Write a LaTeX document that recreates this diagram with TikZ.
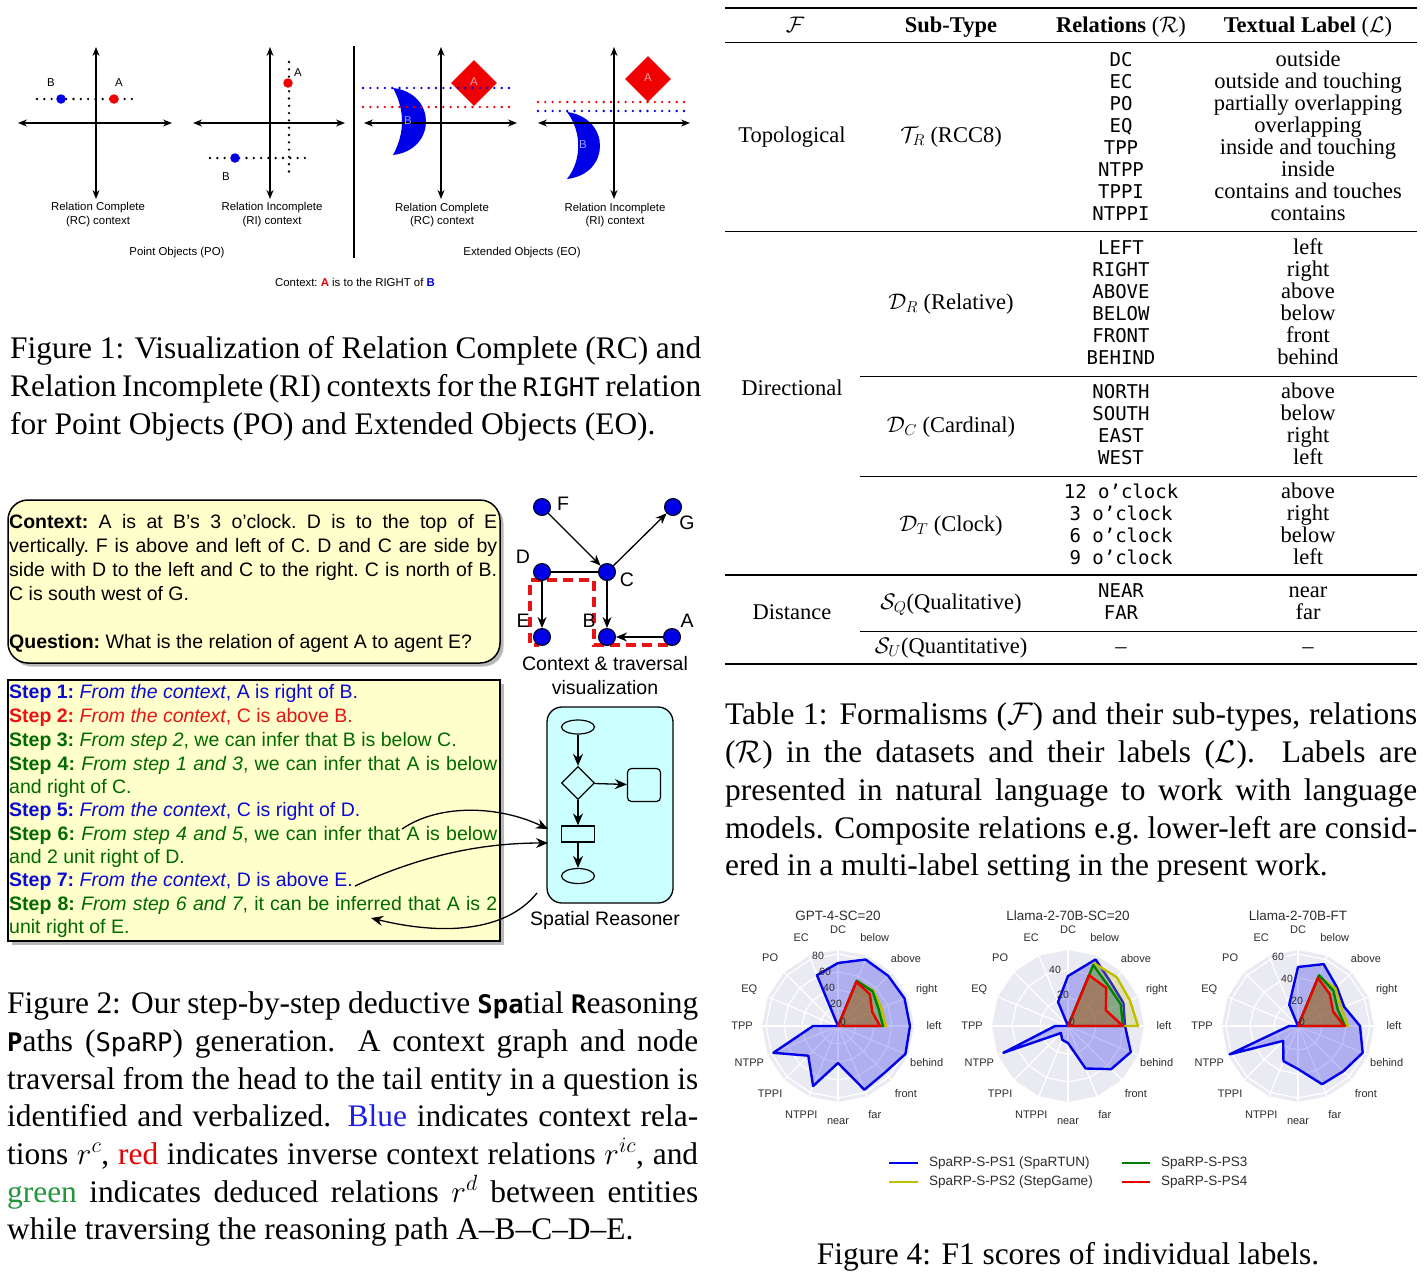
\RequirePackage{fix-cm}
\documentclass[tikz,border=0pt]{standalone}
\usepackage{fontspec}
\setmainfont{Liberation Serif}
\setsansfont{Liberation Sans}
\setmonofont{DejaVu Sans Mono}
\usetikzlibrary{arrows.meta,shapes.geometric,shadows}
\definecolor{ptblue}{RGB}{0,0,230}
\definecolor{ptred}{RGB}{240,0,0}
\definecolor{lightblue}{RGB}{160,160,255}
\definecolor{lightred}{RGB}{255,160,160}
\definecolor{boxyellow}{RGB}{255,255,204}
\definecolor{boxcyan}{RGB}{204,255,255}
\definecolor{sblue}{RGB}{10,10,210}
\definecolor{sred}{RGB}{230,20,20}
\definecolor{sgreen}{RGB}{0,105,0}
\definecolor{capblue}{RGB}{30,30,230}
\definecolor{capred}{RGB}{230,0,0}
\definecolor{capgreen}{RGB}{35,150,60}
\definecolor{radbg}{RGB}{234,234,242}
\definecolor{radtxt}{RGB}{45,45,45}
\definecolor{mplblue}{RGB}{0,0,235}
\definecolor{mplyellow}{RGB}{191,191,0}
\definecolor{mplgreen}{RGB}{0,128,0}
\definecolor{mplred}{RGB}{235,0,0}
\newcommand\capfont{\fontsize{31.4}{38}\selectfont}
\newcommand\cmono[1]{{\fontsize{25.6}{30}\selectfont\ttfamily #1}}
\newcommand\jline[2]{\hbox to #1pt{#2}}
\newcommand\radarbase[1]{%
  \fill[radbg] (90:76) \foreach \k in {1,...,15} { -- ({90-22.5*\k}:76) } -- cycle;
  \foreach \k in {0,...,15} {\draw[white, line width=1.2pt] (0,0) -- ({90-22.5*\k}:76);}
  \foreach \rr in {#1} {\draw[white, line width=1.2pt] (90:\rr) \foreach \k in {1,...,15} { -- ({90-22.5*\k}:\rr) } -- cycle;}
}
\newcommand\radpoly[3]{%
  \filldraw[draw=#1, fill=#1, fill opacity=0.25, line width=2.4pt, line join=round] (90:#2) \foreach \r [count=\k] in {#3} { -- ({90-22.5*\k}:\r) } -- cycle;
}
\newcommand\radlabels[1]{%
  \foreach \lab [count=\k from 0] in {DC,below,above,right,left,behind,front,far,near,NTPPI,TPPI,NTPP,TPP,EQ,PO,EC}
    {\node[radlab] (#1l\k) at ({90-22.5*\k}:96) {\lab};}
}
\begin{document}
\begin{tikzpicture}[x=1pt,y=-1pt,
  every node/.style={inner sep=0pt},
  ftxt/.style={font=\sffamily\fontsize{11.4}{13}\selectfont\frenchspacing},
  biaxis/.style={{Stealth[length=9pt,width=7pt]}-{Stealth[length=9pt,width=7pt]}, line width=1.3pt},
  dotl/.style={line width=2.6pt, line cap=round, dash pattern=on 0pt off 7.3pt},
  ptdot/.style={circle, minimum size=9.5pt, inner sep=0pt},
  capn/.style={anchor=base west, inner sep=0pt, font=\capfont},
  ctxt/.style={anchor=base west, inner sep=0pt, font=\sffamily\fontsize{19.5}{24}\selectfont\frenchspacing},
  gnode/.style={circle, draw=black, fill=ptblue, line width=1pt, minimum size=17pt, inner sep=0pt},
  glab/.style={font=\sffamily\fontsize{19.5}{24}\selectfont\frenchspacing},
  garrow/.style={-{Stealth[length=11pt,width=9pt]}, line width=1.3pt},
  farrow/.style={-{Stealth[length=12pt,width=10pt]}, line width=1.3pt},
  thd/.style={anchor=base, inner sep=0pt, font=\fontsize{22.5}{27}\selectfont},
  tmo/.style={anchor=base, inner sep=0pt, font=\fontsize{19}{22}\selectfont\ttfamily},
  radlab/.style={font=\sffamily\fontsize{11}{13}\selectfont, text=radtxt},
  radtick/.style={font=\sffamily\fontsize{10.5}{12}\selectfont, text=radtxt},
  radtitle/.style={font=\sffamily\fontsize{13.5}{15}\selectfont, text=radtxt},
  leg/.style={anchor=west, font=\sffamily\fontsize{13.5}{15}\selectfont, text=radtxt},
]
\useasboundingbox (0,0) rectangle (1427,1280);
\fill[white] (0,0) rectangle (1427,1280);

%================ FIGURE 1 ================
% panel 1
\coordinate (p1t) at (96,47); \coordinate (p1b) at (96,199);
\coordinate (p1l) at (18,123); \coordinate (p1r) at (172,123);
\draw[biaxis] (p1t) -- (p1b);
\draw[biaxis] (p1l) -- (p1r);
\coordinate (d1a) at (37,99); \coordinate (d1b) at (139,99);
\draw[dotl] (d1a) -- (d1b);
\node[ptdot, fill=ptblue] (pB1) at (61,99) {};
\node[ptdot, fill=ptred] (pA1) at (114,99) {};
\node[ftxt] (lB1) at (51,83) {B};
\node[ftxt] (lA1) at (119,83) {A};
\node[ftxt] (rc1a) at (98,208) {Relation Complete};
\node[ftxt] (rc1b) at (98,222) {(RC) context};
% panel 2
\coordinate (p2t) at (270,47); \coordinate (p2b) at (270,199);
\coordinate (p2l) at (193,123); \coordinate (p2r) at (345,123);
\draw[biaxis] (p2t) -- (p2b);
\draw[biaxis] (p2l) -- (p2r);
\coordinate (d2a) at (289,62); \coordinate (d2b) at (289,172);
\coordinate (d2c) at (210,158); \coordinate (d2d) at (312,158);
\draw[dotl] (d2a) -- (d2b);
\draw[dotl] (d2c) -- (d2d);
\node[ptdot, fill=ptred] (pA2) at (288,83) {};
\node[ptdot, fill=ptblue] (pB2) at (235,158) {};
\node[ftxt] (lA2) at (298,73) {A};
\node[ftxt] (lB2) at (226,177) {B};
\node[ftxt] (ri2a) at (272,208) {Relation Incomplete};
\node[ftxt] (ri2b) at (272,222) {(RI) context};
\node[ftxt] (po) at (177,253) {Point Objects (PO)};
% separator
\coordinate (sepT) at (354,46); \coordinate (sepB) at (354,258);
\draw[line width=1.2pt] (sepT) -- (sepB);
% panel 3
\fill[ptblue] (393,88) .. controls (437,93) and (437,150) .. (393,155) .. controls (405,133) and (405,110) .. (393,88) -- cycle;
\node[diamond, fill=ptred, minimum size=46pt] (dA3) at (474,83) {};
\coordinate (p3t) at (441,47); \coordinate (p3b) at (441,199);
\coordinate (p3l) at (364,123); \coordinate (p3r) at (517,123);
\draw[biaxis] (p3t) -- (p3b);
\draw[biaxis] (p3l) -- (p3r);
\draw[dotl, ptblue] (363,88) -- (513,88);
\draw[dotl, ptred] (363,107) -- (513,107);
\node[ftxt, text=lightblue] (lB3) at (408,121) {B};
\node[ftxt, text=lightred] (lA3) at (474,82) {A};
\node[ftxt] (rc3a) at (442,209) {Relation Complete};
\node[ftxt] (rc3b) at (442,222) {(RC) context};
% panel 4
\fill[ptblue] (567,112) .. controls (611,118) and (611,174) .. (567,179) .. controls (582,160) and (582,132) .. (567,112) -- cycle;
\node[diamond, fill=ptred, minimum size=46pt] (dA4) at (648,79) {};
\coordinate (p4t) at (614,47); \coordinate (p4b) at (614,199);
\coordinate (p4l) at (538,123); \coordinate (p4r) at (690,123);
\draw[biaxis] (p4t) -- (p4b);
\draw[biaxis] (p4l) -- (p4r);
\draw[dotl, ptred] (538,102) -- (686,102);
\draw[dotl, ptblue] (538,111) -- (686,111);
\node[ftxt, text=lightblue] (lB4) at (583,145) {B};
\node[ftxt, text=lightred] (lA4) at (648,78) {A};
\node[ftxt] (ri4a) at (615,209) {Relation Incomplete};
\node[ftxt] (ri4b) at (615,222) {(RI) context};
\node[ftxt] (eo) at (522,253) {Extended Objects (EO)};
\node[ftxt] (ctx1) at (355,282) {Context: {\color{ptred}\bfseries A} is to the RIGHT of {\color{ptblue}\bfseries B}};
% caption 1
\node[capn] (c1l1) at (10,358) {\jline{691}{Figure 1: Visualization of Relation Complete (RC) and}};
\node[capn] (c1l2) at (10,396) {\jline{691}{Relation Incomplete (RI) contexts for the \cmono{RIGHT} relation}};
\node[capn] (c1l3) at (10,434) {for Point Objects (PO) and Extended Objects (EO).};

%================ FIGURE 2 ================
\node[draw, line width=1.5pt, rounded corners=20pt, fill=boxyellow, minimum width=492pt, minimum height=163pt,
      drop shadow={shadow xshift=3.5pt, shadow yshift=-3.5pt, fill=black!55}] (ctxbox) at (254,581.5) {};
\node[ctxt] (cx1) at (9,528) {\jline{488}{\textbf{Context:} A is at B's 3 o'clock. D is to the top of E}};
\node[ctxt] (cx2) at (9,552) {\jline{488}{vertically. F is above and left of C. D and C are side by}};
\node[ctxt] (cx3) at (9,576) {\jline{488}{side with D to the left and C to the right. C is north of B.}};
\node[ctxt] (cx4) at (9,600) {C is south west of G.};
\node[ctxt] (cx5) at (9,648) {\textbf{Question:} What is the relation of agent A to agent E?};

\node[draw, line width=1.5pt, fill=boxyellow, minimum width=492pt, minimum height=261pt,
      drop shadow={shadow xshift=3.5pt, shadow yshift=-3.5pt, fill=black!55}] (stbox) at (254,810.5) {};
\node[ctxt, text=sblue] (st1) at (9,698.5) {\textbf{Step 1:} \textit{From the context}, A is right of B.};
\node[ctxt, text=sred] (st2) at (9,722.5) {\textbf{Step 2:} \textit{From the context}, C is above B.};
\node[ctxt, text=sgreen] (st3) at (9,746.5) {\textbf{Step 3:} \textit{From step 2}, we can infer that B is below C.};
\node[ctxt, text=sgreen] (st4) at (9,770.5) {\jline{488}{\textbf{Step 4:} \textit{From step 1 and 3}, we can infer that A is below}};
\node[ctxt, text=sgreen] (st4b) at (9,793.5) {and right of C.};
\node[ctxt, text=sblue] (st5) at (9,816.5) {\textbf{Step 5:} \textit{From the context}, C is right of D.};
\node[ctxt, text=sgreen] (st6) at (9,840.5) {\jline{488}{\textbf{Step 6:} \textit{From step 4 and 5}, we can infer that A is below}};
\node[ctxt, text=sgreen] (st6b) at (9,863.5) {and 2 unit right of D.};
\node[ctxt, text=sblue] (st7) at (9,886.5) {\textbf{Step 7:} \textit{From the context}, D is above E.};
\node[ctxt, text=sgreen] (st8) at (9,910.5) {\jline{488}{\textbf{Step 8:} \textit{From step 6 and 7}, it can be inferred that A is 2}};
\node[ctxt, text=sgreen] (st8b) at (9,933.5) {unit right of E.};

% graph
\draw[sred, line width=3.2pt, dash pattern=on 10pt off 6pt] (668,645) -- (594,645) -- (594,580) -- (530,580) -- (530,645) -- (539,645);
\node[gnode] (F) at (542,507) {};
\node[gnode] (G) at (673,507) {};
\node[gnode] (D) at (542,572) {};
\node[gnode] (C) at (607,572) {};
\node[gnode] (E) at (542,637) {};
\node[gnode] (B) at (607,637) {};
\node[gnode] (A) at (672,637) {};
\draw[garrow] (F) -- (C);
\draw[garrow] (C) -- (G);
\draw[line width=1.3pt] (D) -- (C);
\draw[garrow] (D) -- (E);
\draw[garrow] (C) -- (B);
\draw[garrow] (A) -- (B);
\node[glab] (lF) at (563,504) {F};
\node[glab] (lG) at (687,523) {G};
\node[glab] (lD) at (523,557) {D};
\node[glab] (lC) at (627,580) {C};
\node[glab] (lE) at (523,621) {E};
\node[glab] (lBB) at (589,621) {B};
\node[glab] (lA) at (687,621) {A};
\node[glab] (gcap1) at (605,664) {Context \& traversal};
\node[glab] (gcap2) at (605,688) {visualization};

% spatial reasoner
\node[draw, line width=1.3pt, rounded corners=15pt, fill=boxcyan, minimum width=126pt, minimum height=196pt] (sr) at (610,805) {};
\node[ellipse, draw, line width=1.2pt, minimum width=33pt, minimum height=14pt] (e1) at (578,727) {};
\node[diamond, draw, line width=1.2pt, minimum size=33pt] (dm) at (578,783) {};
\node[draw, line width=1.2pt, rounded corners=4pt, minimum size=33pt] (sq) at (644,785) {};
\node[draw, line width=1.2pt, minimum width=33pt, minimum height=16pt] (rc) at (578,834) {};
\node[ellipse, draw, line width=1.2pt, minimum width=33pt, minimum height=15pt] (e2) at (578,876) {};
\draw[farrow] (e1) -- (dm);
\draw[farrow] (dm) -- (sq);
\draw[farrow] (dm) -- (rc);
\draw[farrow] (rc) -- (e2);
\node[glab] (srl) at (605,920) {Spatial Reasoner};

% curved arrows
\coordinate (s6) at (402,829);
\coordinate (s7) at (355,886);
\coordinate (s8) at (371,918);
\coordinate (in1) at (548,829);
\coordinate (in2) at (548,843);
\coordinate (out1) at (537,893);
\draw[farrow] (s6) .. controls (440,803) and (500,806) .. (in1);
\draw[farrow] (s7) .. controls (420,856) and (480,843) .. (in2);
\draw[farrow] (out1) .. controls (505,933) and (440,935) .. (s8);

% caption 2
\node[capn] (c2l1) at (7,1013) {\jline{691}{Figure 2: Our step-by-step deductive \cmono{\bfseries Spa}tial \cmono{\bfseries R}easoning}};
\node[capn] (c2l2) at (7,1051) {\jline{691}{\cmono{\bfseries P}aths (\cmono{SpaRP}) generation.  A context graph and node}};
\node[capn] (c2l3) at (7,1089) {\jline{691}{traversal from the head to the tail entity in a question is}};
\node[capn] (c2l4) at (7,1126) {\jline{691}{identified and verbalized. \textcolor{capblue}{Blue} indicates context rela-}};
\node[capn] (c2l5) at (7,1164) {\jline{691}{tions $r^c$, \textcolor{capred}{red} indicates inverse context relations $r^{ic}$, and}};
\node[capn] (c2l6) at (7,1202) {\jline{691}{\textcolor{capgreen}{green} indicates deduced relations $r^d$ between entities}};
\node[capn] (c2l7) at (7,1239) {while traversing the reasoning path A--B--C--D--E.};

%================ TABLE 1 ================
\draw[line width=2pt] (725,8) -- (1417,8);
\draw[line width=1pt] (725,42) -- (1417,42);
\draw[line width=1pt] (725,231) -- (1417,231);
\draw[line width=1pt] (860,376) -- (1417,376);
\draw[line width=1pt] (860,476) -- (1417,476);
\draw[line width=1.4pt] (725,575) -- (1417,575);
\draw[line width=1pt] (860,631) -- (1417,631);
\draw[line width=2pt] (725,664) -- (1417,664);
\node[thd] (h1) at (795,32) {$\mathcal{F}$};
\node[thd] (h2) at (951,32) {\textbf{Sub-Type}};
\node[thd] (h3) at (1121,32) {\textbf{Relations} ($\mathcal{R}$)};
\node[thd] (h4) at (1308,32) {\textbf{Textual Label} ($\mathcal{L}$)};
\node[thd] (f1) at (792,142) {Topological};
\node[thd] (f2) at (792,395) {Directional};
\node[thd] (f3) at (792,619) {Distance};
\node[thd] (s1) at (951,142) {$\mathcal{T}_R$ (RCC8)};
\node[thd] (s2) at (951,309) {$\mathcal{D}_R$ (Relative)};
\node[thd] (s3) at (951,432) {$\mathcal{D}_C$ (Cardinal)};
\node[thd] (s4) at (951,531) {$\mathcal{D}_T$ (Clock)};
\node[thd] (s5) at (951,609) {$\mathcal{S}_Q$(Qualitative)};
\node[thd] (s6n) at (951,653) {$\mathcal{S}_U$(Quantitative)};
\foreach \rel/\lab [count=\i from 0] in {DC/outside, EC/outside and touching, PO/partially overlapping, EQ/overlapping, TPP/inside and touching, NTPP/inside, TPPI/contains and touches, NTPPI/contains}
  {\node[tmo] (rt\i) at (1121,{66+22*\i}) {\rel};
   \node[thd] (lt\i) at (1308,{66+22*\i}) {\lab};}
\foreach \rel/\lab [count=\i from 0] in {LEFT/left, RIGHT/right, ABOVE/above, BELOW/below, FRONT/front, BEHIND/behind}
  {\node[tmo] (rr\i) at (1121,{254+22*\i}) {\rel};
   \node[thd] (lr\i) at (1308,{254+22*\i}) {\lab};}
\foreach \rel/\lab [count=\i from 0] in {NORTH/above, SOUTH/below, EAST/right, WEST/left}
  {\node[tmo] (rc\i) at (1121,{398+22*\i}) {\rel};
   \node[thd] (lc\i) at (1308,{398+22*\i}) {\lab};}
\foreach \rel/\lab [count=\i from 0] in {12 o’clock/above, 3 o’clock/right, 6 o’clock/below, 9 o’clock/left}
  {\node[tmo] (rk\i) at (1121,{498+22*\i}) {\rel};
   \node[thd] (lk\i) at (1308,{498+22*\i}) {\lab};}
\node[tmo] (rq0) at (1121,597) {NEAR};
\node[thd] (lq0) at (1308,597) {near};
\node[tmo] (rq1) at (1121,619) {FAR};
\node[thd] (lq1) at (1308,619) {far};
\node[thd] (ru) at (1121,653) {--};
\node[thd] (lu) at (1308,653) {--};
% caption table
\node[capn] (t1l1) at (725,724) {\jline{692}{Table 1: Formalisms ($\mathcal{F}$) and their sub-types, relations}};
\node[capn] (t1l2) at (725,762) {\jline{692}{($\mathcal{R}$) in the datasets and their labels ($\mathcal{L}$).  Labels are}};
\node[capn] (t1l3) at (725,800) {\jline{692}{presented in natural language to work with language}};
\node[capn] (t1l4) at (725,838) {\jline{692}{models. Composite relations e.g.\ lower-left are consid-}};
\node[capn] (t1l5) at (725,875) {ered in a multi-label setting in the present work.};

%================ FIGURE 4 ================
\begin{scope}[shift={(838,1026)},yscale=-1]
  \radarbase{18,36,54,72}
  \radpoly{mplblue}{63}{72,71,72,72,73,66,69,37,65,42,70,25,0,0,55}
  \radpoly{mplyellow}{0}{49,50,47,48,0,0,0,0,0,0,0,0,0,0,0}
  \radpoly{mplgreen}{0}{49,49,44,45,0,0,0,0,0,0,0,0,0,0,0}
  \radpoly{mplred}{0}{48,45,37,42,0,0,0,0,0,0,0,0,0,0,0}
  \radlabels{ra}
\end{scope}
\node[radtick] (ta0) at (843,1022) {0};
\node[radtick] (ta1) at (836,1004) {20};
\node[radtick] (ta2) at (829,988) {40};
\node[radtick] (ta3) at (825,972) {60};
\node[radtick] (ta4) at (818,956) {80};
\node[radtitle] (tt1) at (838,916) {GPT-4-SC=20};

\begin{scope}[shift={(1068,1026)},yscale=-1]
  \radarbase{28,56}
  \radpoly{mplblue}{50}{72,61,60,57,68,61,46,17,15,10,70,13,0,0,26}
  \radpoly{mplyellow}{0}{68,69,67,70,0,0,0,0,0,0,0,0,0,0,0}
  \radpoly{mplgreen}{0}{66,57,57,55,0,0,0,0,0,0,0,0,0,0,0}
  \radpoly{mplred}{0}{55,54,41,55,0,0,0,0,0,0,0,0,0,0,0}
  \radlabels{rb}
\end{scope}
\node[radtick] (tb0) at (1072,1022) {0};
\node[radtick] (tb1) at (1063,995) {20};
\node[radtick] (tb2) at (1055,970) {40};
\node[radtitle] (tt2) at (1068,916) {Llama-2-70B-SC=20};

\begin{scope}[shift={(1298,1026)},yscale=-1]
  \radarbase{24,48,72}
  \radpoly{mplblue}{59}{67,55,50,62,70,64,63,43,38,21,74,9,0,0,23}
  \radpoly{mplyellow}{0}{54,53,47,50,0,0,0,0,0,0,0,0,0,0,0}
  \radpoly{mplgreen}{0}{55,50,43,47,0,0,0,0,0,0,0,0,0,0,0}
  \radpoly{mplred}{0}{52,45,38,46,0,0,0,0,0,0,0,0,0,0,0}
  \radlabels{rc}
\end{scope}
\node[radtick] (tc0) at (1302,1022) {0};
\node[radtick] (tc1) at (1297,1001) {20};
\node[radtick] (tc2) at (1287,979) {40};
\node[radtick] (tc3) at (1278,957) {60};
\node[radtitle] (tt3) at (1298,916) {Llama-2-70B-FT};

% legend
\coordinate (lg1a) at (889,1163); \coordinate (lg1b) at (918,1163);
\coordinate (lg2a) at (889,1182); \coordinate (lg2b) at (918,1182);
\coordinate (lg3a) at (1122,1163); \coordinate (lg3b) at (1150,1163);
\coordinate (lg4a) at (1122,1182); \coordinate (lg4b) at (1150,1182);
\draw[mplblue, line width=2.4pt] (lg1a) -- (lg1b);
\draw[mplyellow, line width=2.4pt] (lg2a) -- (lg2b);
\draw[mplgreen, line width=2.4pt] (lg3a) -- (lg3b);
\draw[mplred, line width=2.4pt] (lg4a) -- (lg4b);
\node[leg] (lt1) at (929,1163) {SpaRP-S-PS1 (SpaRTUN)};
\node[leg] (lt2) at (929,1182) {SpaRP-S-PS2 (StepGame)};
\node[leg] (lt3) at (1161,1163) {SpaRP-S-PS3};
\node[leg] (lt4) at (1161,1182) {SpaRP-S-PS4};
\node[capn, anchor=base] (c4) at (1068,1264) {Figure 4: F1 scores of individual labels.};
\end{tikzpicture}
\end{document}
